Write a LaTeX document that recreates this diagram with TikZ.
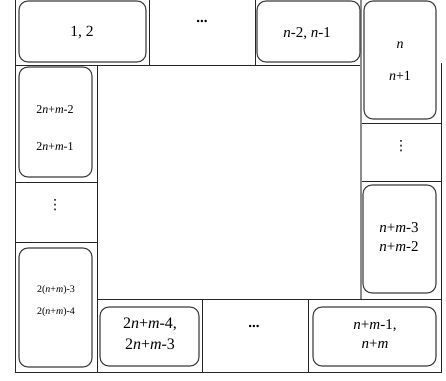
\documentclass[tikz,border=0pt]{standalone}
\usepackage{fontspec}
\setmainfont{Liberation Serif}
\newfontfamily\djv{DejaVu Sans}
\newcommand\itn{\textit{n}}
\newcommand\itm{\textit{m}}
\begin{document}
\begin{tikzpicture}[x=1pt,y=-1pt,
  grid/.style={draw=black!85,line width=0.8pt},
  grayline/.style={draw=black!45,line width=1.8pt},
  cellbox/.style={draw=black!75,line width=1.1pt,rounded corners=9pt},
  lbl/.style={inner sep=0pt,align=center}]
\useasboundingbox (0,0) rectangle (446,380);
% grid lines
\draw[grid] (15,0) -- (15,372) -- (441,372) -- (441,63);
\draw[grid] (149,0) -- (149,65);
\draw[grid] (255,0) -- (255,65);
\draw[grid] (15,65) -- (361,65);
\draw[grid] (361,123) -- (441,123);
\draw[grid] (361,181) -- (441,181);
\draw[grid] (97,299) -- (441,299);
\draw[grid] (97,65) -- (97,372);
\draw[grid] (15,182) -- (97,182);
\draw[grid] (15,242) -- (97,242);
\draw[grid] (202,299) -- (202,372);
\draw[grid] (308,299) -- (308,372);
\draw[grayline] (361,0) -- (361,299);
% rounded boxes
\draw[cellbox] (19,1) rectangle (146,62);
\draw[cellbox] (257,1) rectangle (360,62);
\draw[cellbox] (364,1) rectangle (436,119);
\draw[cellbox] (363,185) rectangle (436,293);
\draw[cellbox] (313,307) rectangle (436,366);
\draw[cellbox] (100,307) rectangle (199,366);
\draw[cellbox] (19,248) rectangle (92,367);
\draw[cellbox] (19,67) rectangle (92,177);
% labels
\node[lbl,font=\fontsize{15.5}{18}\selectfont] (a) at (82,33) {1, 2};
\node[lbl,font=\fontsize{15}{18}\selectfont] (b) at (307,34) {\itn-2, \itn-1};
\node[lbl,font=\fontsize{14}{17}\selectfont] (c1) at (400,45) {\itn};
\node[lbl,font=\fontsize{14}{17}\selectfont] (c2) at (400,76) {\itn+1};
\node[lbl,font=\fontsize{12}{14}\selectfont] (h1) at (55,110) {2\itn+\itm-2};
\node[lbl,font=\fontsize{12}{14}\selectfont] (h2) at (55,147) {2\itn+\itm-1};
\node[lbl,font=\fontsize{10}{12}\selectfont] (g1) at (56,290) {2(\itn+\itm)-3};
\node[lbl,font=\fontsize{10}{12}\selectfont] (g2) at (56,312) {2(\itn+\itm)-4};
\node[lbl,font=\fontsize{16}{19}\selectfont] (f1) at (150,324) {2\itn+\itm-4,};
\node[lbl,font=\fontsize{16}{19}\selectfont] (f2) at (150,344) {2\itn+\itm-3};
\node[lbl,font=\fontsize{15}{18}\selectfont] (d1) at (399,228) {\itn+\itm-3};
\node[lbl,font=\fontsize{15}{18}\selectfont] (d2) at (399,247) {\itn+\itm-2};
\node[lbl,font=\fontsize{15}{18}\selectfont] (e1) at (375,326) {\itn+\itm-1,};
\node[lbl,font=\fontsize{15}{18}\selectfont] (e2) at (375,344) {\itn+\itm};
\node[lbl,font=\bfseries\fontsize{15}{17}\selectfont] (t) at (202,21) {...};
\node[lbl,font=\bfseries\fontsize{15}{17}\selectfont] (u) at (254,326) {...};
\node[lbl,font=\djv\fontsize{14}{16}\selectfont] (v1) at (401,146) {⋮};
\node[lbl,font=\djv\fontsize{14}{16}\selectfont] (v2) at (55,205) {⋮};
\end{tikzpicture}
\end{document}
